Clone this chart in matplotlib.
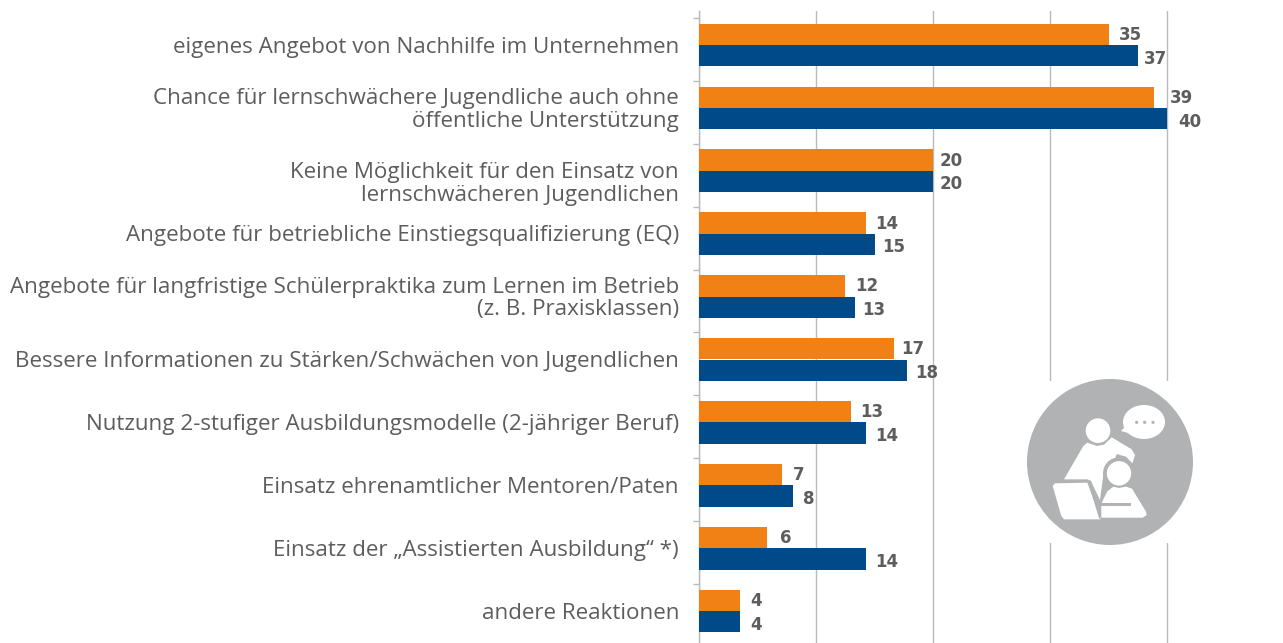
import matplotlib
matplotlib.use('Agg')
import matplotlib.pyplot as plt
import numpy as np
from matplotlib.patches import Circle, Ellipse, Polygon, Rectangle

categories = [
    'eigenes Angebot von Nachhilfe im Unternehmen',
    'Chance für lernschwächere Jugendliche auch ohne\nöffentliche Unterstützung',
    'Keine Möglichkeit für den Einsatz von\nlernschwächeren Jugendlichen',
    'Angebote für betriebliche Einstiegsqualifizierung (EQ)',
    'Angebote für langfristige Schülerpraktika zum Lernen im Betrieb\n(z. B. Praxisklassen)',
    'Bessere Informationen zu Stärken/Schwächen von Jugendlichen',
    'Nutzung 2-stufiger Ausbildungsmodelle (2-jähriger Beruf)',
    'Einsatz ehrenamtlicher Mentoren/Paten',
    'Einsatz der „Assistierten Ausbildung“ *)',
    'andere Reaktionen',
]
# bar lengths, the printed labels are rounded
orange_vals = [35.0, 38.9, 20.0, 14.3, 12.5, 16.7, 13.0, 7.1, 5.8, 3.5]
blue_vals = [37.5, 40.0, 20.0, 15.0, 13.3, 17.8, 14.3, 8.0, 14.3, 3.5]
orange_labels = ['35', '39', '20', '14', '12', '17', '13', '7', '6', '4']
blue_labels = ['37', '40', '20', '15', '13', '18', '14', '8', '14', '4']
x_ticks = [0, 10, 20, 30, 40]

ORANGE = '#f18114'
BLUE = '#004a8a'
GREY = '#b9babb'
TXT = '#5d5d5d'
W, H = 1283, 643

# label gaps in the original are uneven (px from bar end)
orange_gap = [10, 16, 7, 9, 10, 7, 9, 11, 13, 10]
blue_gap = [6, 11, 7, 8, 8, 8, 9, 10, 9, 10]

fig = plt.figure(figsize=(W / 100, H / 100), dpi=100)
# axes placed by pixel: spine at x=699, top y=11, bottom of canvas
ax = fig.add_axes([699 / W, 0, (W - 699) / W, (H - 11) / H])
ax.set_xlim(0, (W - 699) / 11.7)
ax.set_ylim((H - 45) / 62.9, (11 - 45) / 62.9)

y = np.arange(len(categories))
bar_h = 0.34
ax.barh(y - bar_h / 2, orange_vals, bar_h, color=ORANGE, zorder=3)
ax.barh(y + bar_h / 2, blue_vals, bar_h, color=BLUE, zorder=3)

for i in y:
    ax.annotate(orange_labels[i], (orange_vals[i], i - bar_h / 2), xytext=(orange_gap[i], -0.5),
                textcoords='offset pixels', va='center', ha='left', fontsize=12,
                fontweight='bold', color=TXT, zorder=4)
    ax.annotate(blue_labels[i], (blue_vals[i], i + bar_h / 2), xytext=(blue_gap[i], -3),
                textcoords='offset pixels', va='center', ha='left', fontsize=12,
                fontweight='bold', color=TXT, zorder=4)
    # third label sits lower than its bars in the original
    dy = -13 if i == 2 else -2
    ax.annotate(categories[i], (0, i), xytext=(-20, dy), textcoords='offset pixels',
                va='center', ha='right', ma='right', fontsize=16.12, family='Open Sans',
                color=TXT, linespacing=1.1, annotation_clip=False)

ax.set_xticks(x_ticks)
ax.xaxis.grid(True, color=GREY, lw=1, zorder=0)
ax.tick_params(axis='x', length=0, labelbottom=False)
ax.set_yticks(y - 0.43)
ax.tick_params(axis='y', length=4, width=1, color=GREY, labelleft=False)
for s in ['top', 'right', 'bottom']:
    ax.spines[s].set_visible(False)
ax.spines['left'].set_color(GREY)
ax.spines['left'].set_linewidth(1)

# icon overlay in pixel coords
ov = fig.add_axes([0, 0, 1, 1], zorder=5)
ov.set_xlim(0, W)
ov.set_ylim(H, 0)
ov.axis('off')
ov.patch.set_alpha(0)


def P(pts):
    return [(1000 + a / 3, 360 + b / 3) for a, b in pts]


ov.add_patch(Rectangle((1040, 381), 140, 162, color='white', lw=0))
ov.add_patch(Circle((1110, 462), 83, color='#b1b2b3', lw=0))
ov.add_patch(Ellipse((1144, 422), 42, 34, color='white', lw=0))
ov.add_patch(Polygon(P([(363, 213), (385, 190), (395, 222)]), color='white', lw=0))
for dx in [410, 434, 459]:
    ov.add_patch(Circle(P([(dx, 187)])[0], 1.6, color='#b1b2b3', lw=0))
ov.add_patch(Circle(P([(294, 212)])[0], 12.3, color='white', lw=0))
ov.add_patch(Polygon(P([(192, 358), (250, 258), (262, 248), (290, 258), (312, 254),
                        (335, 232), (395, 268), (405, 285), (397, 310), (378, 290),
                        (350, 282), (345, 298), (322, 310), (310, 345), (300, 420),
                        (272, 362), (262, 358)]), color='white', lw=0))
ov.add_patch(Circle(P([(357, 340)])[0], 16, color='#b1b2b3', lw=0))
ov.add_patch(Circle(P([(357, 340)])[0], 12.2, color='white', lw=0))
ov.add_patch(Polygon(P([(158, 378), (165, 370), (262, 368), (300, 470), (302, 478),
                        (192, 478), (184, 468)]), color='white', lw=0, zorder=3))
ov.add_patch(Polygon(P([(264, 365), (273, 362), (306, 462), (298, 478)]), color='#b1b2b3', lw=0, zorder=3))
ov.add_patch(Polygon(P([(304, 430), (322, 394), (340, 380), (357, 384), (378, 380), (396, 386),
                        (438, 455), (440, 465), (428, 473), (304, 473)]), color='white', lw=0, zorder=3))
ov.add_patch(Rectangle((1101, 503), 30, 2.6, color='#b1b2b3', lw=0, zorder=4))

fig.savefig('out.png', dpi=100)
